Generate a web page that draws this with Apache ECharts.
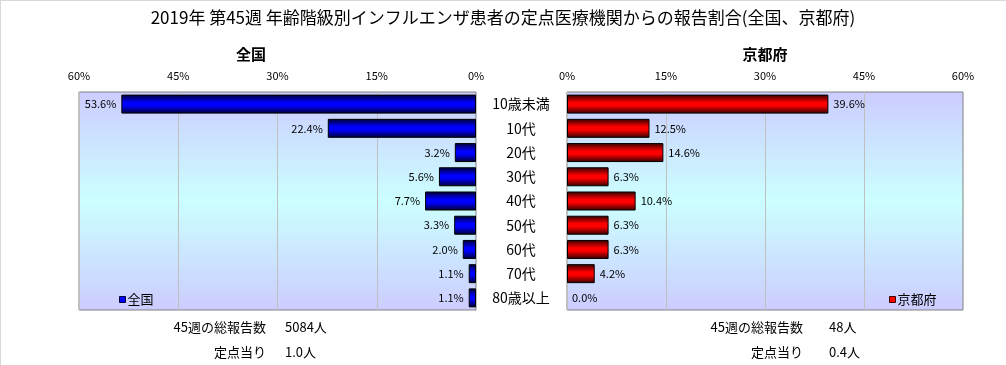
<!DOCTYPE html>
<html>
<head>
<meta charset="utf-8">
<script src="https://cdn.jsdelivr.net/npm/echarts@6/dist/echarts.min.js"></script>
<style>
html,body{margin:0;padding:0;background:#fff;}
#c{width:1006px;height:365px;}
</style>
</head>
<body>
<div id="c"></div>
<script>
const categories = ['10歳未満','10代','20代','30代','40代','50代','60代','70代','80歳以上'];
const nationalValues = [53.6, 22.4, 3.2, 5.6, 7.7, 3.3, 2.0, 1.1, 1.1];
const kyotoValues = [39.6, 12.5, 14.6, 6.3, 10.4, 6.3, 6.3, 4.2, 0.0];
const axisTicks = [0, 15, 30, 45, 60];
const nationalNotes = [['45週の総報告数', '5084人'], ['定点当り', '1.0人']];
const kyotoNotes = [['45週の総報告数', '48人'], ['定点当り', '0.4人']];

const FONT = '"Noto Sans CJK JP", "Noto Sans", sans-serif';
const chart = echarts.init(document.getElementById('c'));

const bgGrad = new echarts.graphic.LinearGradient(0, 0, 0, 1, [
  {offset: 0, color: '#ccccff'},
  {offset: 0.5, color: '#ccffff'},
  {offset: 1, color: '#ccccff'}
]);
const blueGrad = new echarts.graphic.LinearGradient(0, 0, 0, 1, [
  {offset: 0, color: '#000030'},
  {offset: 0.42, color: '#0000ff'},
  {offset: 0.58, color: '#0000ff'},
  {offset: 1, color: '#000030'}
]);
const redGrad = new echarts.graphic.LinearGradient(0, 0, 0, 1, [
  {offset: 0, color: '#300000'},
  {offset: 0.42, color: '#ff0000'},
  {offset: 0.58, color: '#ff0000'},
  {offset: 1, color: '#300000'}
]);

const tmin = axisTicks[0], tmax = axisTicks[axisTicks.length - 1], tint = axisTicks[1] - axisTicks[0];

function xAxisCfg(gridIndex, inverse) {
  return {
    type: 'value', gridIndex: gridIndex, inverse: inverse, position: 'top',
    min: tmin, max: tmax, interval: tint,
    axisLine: {show: false}, axisTick: {show: false},
    axisLabel: {formatter: '{value}%', fontFamily: FONT, fontSize: 11, color: '#000', margin: 11},
    splitLine: {show: true, lineStyle: {color: '#c0c0c0', width: 1}}
  };
}

function barData(values) {
  return values.map(v => v === 0 ? {value: v, itemStyle: {borderWidth: 0}} : v);
}

const noteText = [];
function addNotes(notes, rightX, valX) {
  notes.forEach((n, i) => {
    const y = 327 + i * 25;
    noteText.push({type: 'text', x: rightX, y: y,
      style: {text: n[0], fontFamily: FONT, fontSize: 13, fill: '#000', align: 'right', verticalAlign: 'middle'}});
    noteText.push({type: 'text', x: valX, y: y,
      style: {text: n[1], fontFamily: FONT, fontSize: 13, fill: '#000', align: 'left', verticalAlign: 'middle'}});
  });
}
addNotes(nationalNotes, 266, 285);
addNotes(kyotoNotes, 803, 829);

chart.setOption({
  animation: false,
  backgroundColor: '#fff',
  title: [
    {text: '2019年 第45週 年齢階級別インフルエンザ患者の定点医療機関からの報告割合(全国、京都府)',
     left: 'center', top: 4, textStyle: {fontFamily: FONT, fontSize: 17, fontWeight: 'normal', color: '#000'}},
    {text: '全国', left: 246, top: 42, textAlign: 'center', textStyle: {fontFamily: FONT, fontSize: 15, fontWeight: 'bold', color: '#000'}},
    {text: '京都府', left: 760, top: 42, textAlign: 'center', textStyle: {fontFamily: FONT, fontSize: 15, fontWeight: 'bold', color: '#000'}}
  ],
  legend: [
    {data: [{name: '全国', itemStyle: {color: '#0000ff', borderColor: '#000040', borderWidth: 1}}],
     left: 114, top: 288, icon: 'rect', itemWidth: 6, itemHeight: 6, itemGap: 2,
     textStyle: {fontFamily: FONT, fontSize: 13, color: '#000', padding: [0,0,0,-3]}},
    {data: [{name: '京都府', itemStyle: {color: '#ff0000', borderColor: '#400000', borderWidth: 1}}],
     left: 884, top: 288, icon: 'rect', itemWidth: 6, itemHeight: 6, itemGap: 2,
     textStyle: {fontFamily: FONT, fontSize: 13, color: '#000', padding: [0,0,0,-3]}}
  ],
  grid: [
    {left: 79, width: 397, top: 92, height: 218, show: true, borderColor: '#808080', borderWidth: 1, backgroundColor: bgGrad},
    {left: 567, width: 396, top: 92, height: 218, show: true, borderColor: '#808080', borderWidth: 1, backgroundColor: bgGrad}
  ],
  xAxis: [xAxisCfg(0, true), xAxisCfg(1, false)],
  yAxis: [
    {type: 'category', gridIndex: 0, data: categories, inverse: true, position: 'right',
     axisLine: {show: false}, axisTick: {show: false},
     axisLabel: {fontFamily: FONT, fontSize: 14, color: '#000', align: 'center', margin: 45}},
    {type: 'category', gridIndex: 1, data: categories, inverse: true,
     axisLine: {show: false}, axisTick: {show: false}, axisLabel: {show: false}}
  ],
  series: [
    {name: '全国', type: 'bar', xAxisIndex: 0, yAxisIndex: 0, data: barData(nationalValues), barWidth: 19,
     itemStyle: {color: blueGrad, borderColor: '#000', borderWidth: 1},
     label: {show: true, position: 'left', distance: 5, formatter: p => p.value.toFixed(1) + '%',
       fontFamily: FONT, fontSize: 11, color: '#000'}},
    {name: '京都府', type: 'bar', xAxisIndex: 1, yAxisIndex: 1, data: barData(kyotoValues), barWidth: 19,
     itemStyle: {color: redGrad, borderColor: '#000', borderWidth: 1},
     label: {show: true, position: 'right', distance: 5, formatter: p => p.value.toFixed(1) + '%',
       fontFamily: FONT, fontSize: 11, color: '#000'}}
  ],
  graphic: [
    {type: 'line', shape: {x1: 0.5, y1: 0, x2: 0.5, y2: 365}, style: {stroke: '#d8d8d8', lineWidth: 1}},
    {type: 'line', shape: {x1: 0, y1: 0.5, x2: 1006, y2: 0.5}, style: {stroke: '#d8d8d8', lineWidth: 1}}
  ].concat(noteText)
});
</script>
</body>
</html>
